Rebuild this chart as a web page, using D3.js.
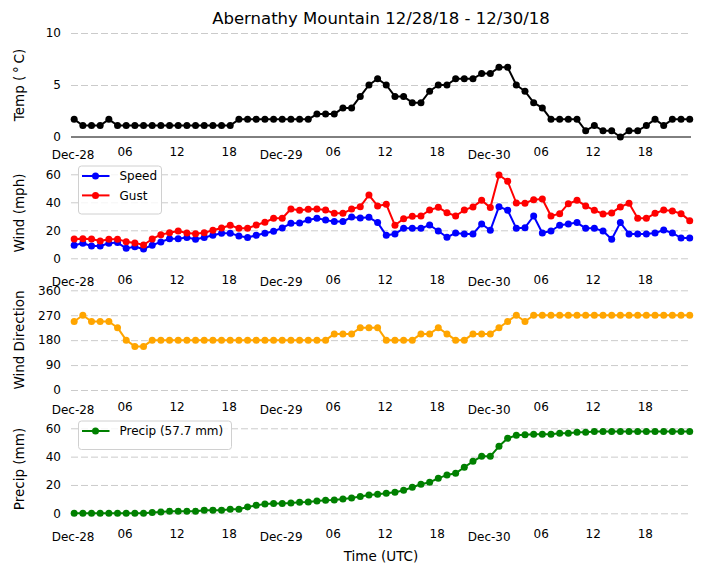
<!DOCTYPE html>
<html>
<head>
<meta charset="utf-8">
<script src="https://cdn.jsdelivr.net/npm/d3@7"></script>
<style>
  body { margin: 0; background: #fff; }
  text { font-family: "DejaVu Sans", sans-serif; fill: #000; }
</style>
</head>
<body>
<div id="chart"></div>
<script>
// hourly observations, Dec-28 00:11 UTC onwards
const tempC = [1.7, 1.1, 1.1, 1.1, 1.7, 1.1, 1.1, 1.1, 1.1, 1.1, 1.1, 1.1, 1.1, 1.1, 1.1, 1.1, 1.1, 1.1, 1.1,
    1.7, 1.7, 1.7, 1.7, 1.7, 1.7, 1.7, 1.7, 1.7, 2.2, 2.2, 2.2, 2.8, 2.8,
    3.9, 5.0, 5.6, 5.0, 3.9, 3.9, 3.3, 3.3, 4.4, 5.0, 5.0, 5.6, 5.6, 5.6, 6.1, 6.1, 6.7, 6.7,
    5.0, 4.4, 3.3, 2.8, 1.7, 1.7, 1.7, 1.7, 0.6, 1.1, 0.6, 0.6, 0, 0.6, 0.6, 1.1, 1.7, 1.1, 1.7, 1.7, 1.7];
const windSpeed = [9.3, 10.7, 8.8, 8.8, 10.7, 11.2, 7.1, 8.3, 6.7, 9.3, 11.7, 14, 14, 14.8, 13.6, 14.8, 16.4, 17.9, 17.9,
    16, 14.8, 16.4, 17.9, 19.3, 21.7, 25, 25.2, 27.4, 28.6, 27.4, 26.2, 26.2, 29.5, 28.8, 29.3, 25.5, 16.4,
    17.4, 21.4, 21.4, 21.4, 23.8, 19.5, 15, 18.1, 17.4, 17.4, 24.5, 20, 36.9, 34.3, 21.4, 21.9, 30.2, 18.1,
    19.5, 23.6, 24.5, 25.5, 21.4, 21.4, 19.5, 13.6, 25.5, 17.4, 17.4, 17.4, 18.1, 20.2, 18.1, 14.5, 14.5];
const windGust = [13.8, 14, 13.8, 12.4, 13.6, 13.6, 11.9, 11, 9.5, 13.8, 16.9, 18.3, 19.5, 18.1, 17.6, 18.3, 20, 21.7, 23.6,
    21.4, 21.4, 23.8, 25.7, 28.6, 28.6, 35.2, 34.3, 35, 35.2, 34.5, 32.1, 32.1, 35.2, 36.9, 45.2, 37.4, 38.6,
    23.6, 28.3, 30, 30.2, 34.5, 36.4, 32.6, 30.2, 34.5, 36.7, 41.4, 36.2, 59.5, 55, 39.5, 39.3, 41.9, 42.4,
    30.2, 31.9, 39, 41.4, 37.4, 34.3, 31.7, 32.4, 36.7, 39.3, 28.6, 28.6, 32.1, 34.5, 33.8, 31.9, 26.9];
const windDir = [247.5, 270, 247.5, 247.5, 247.5, 225, 180, 157.5, 157.5,
    180, 180, 180, 180, 180, 180, 180, 180, 180, 180, 180, 180, 180, 180, 180, 180, 180, 180, 180, 180, 180,
    202.5, 202.5, 202.5, 225, 225, 225, 180, 180, 180, 180, 202.5, 202.5, 225, 202.5, 180, 180,
    202.5, 202.5, 202.5, 225, 247.5, 270, 247.5,
    270, 270, 270, 270, 270, 270, 270, 270, 270, 270, 270, 270, 270, 270, 270, 270, 270, 270, 270];
const precip = [0, 0, 0, 0, 0, 0, 0, 0, 0, 0.5, 0.9, 1.4, 1.4, 1.4, 1.4, 2.1, 2.1, 2.1, 2.8, 2.8,
    4.5, 5.6, 6.6, 7.0, 7.0, 7.3, 7.8, 8.0, 8.7, 9.2, 9.4, 10.1, 10.8, 11.8, 12.9, 13.4, 14.2, 14.8,
    16.2, 18.4, 20.5, 21.9, 24.7, 27.1, 28.2, 32.5, 36.7, 40.2, 40.2, 47.3, 52.9, 55.1, 55.5,
    55.8, 55.8, 55.8, 56.5, 56.5, 57.2, 57.2, 57.7, 57.7, 57.7, 57.7, 57.7, 57.7, 57.7, 57.7, 57.7, 57.7, 57.7, 57.7];

const tempTicks = [0, 5, 10];
const windTicks = [0, 20, 40, 60];
const dirTicks = [0, 90, 180, 270, 360];
const precipTicks = [0, 20, 40, 60];

const title = "Abernathy Mountain 12/28/18 - 12/30/18";
const precipTotal = "Precip (57.7 mm)";

const start = Date.UTC(2018, 11, 28, 0, 11);
const times = tempC.map((d, i) => new Date(start + i * 3600e3));

const W = 704, H = 573;
const left = 71, right = 691;

let svg = d3.select("#chart").append("svg")
    .attr("width", W)
    .attr("height", H);

let x = d3.scaleUtc()
    .domain([new Date(Date.UTC(2018, 11, 27, 23, 49)), new Date(Date.UTC(2018, 11, 30, 23, 13))])
    .range([left, right - 1]);

const xTicks = x.ticks(d3.utcHour.every(6));
const fmtDate = d3.utcFormat("%b-%d"), fmtHour = d3.utcFormat("%H");

// panels: pixel position of y range and x tick labels
const panels = [
    { label: "Temp (\u2009\u00B0\u2009C)", dom: [0, 10], rng: [137, 33], ticks: tempTicks, tickY: 151.7, labY: 85 },
    { label: "Wind (mph)", dom: [0, 60], rng: [258.3, 174.3], ticks: windTicks, tickY: 279.3, labY: 213 },
    { label: "Wind Direction", dom: [0, 360], rng: [390, 290.3], ticks: dirTicks, tickY: 406.8, labY: 340 },
    { label: "Precip (mm)", dom: [0, 60], rng: [513.3, 428.3], ticks: precipTicks, tickY: 534, labY: 469 }
];

panels.forEach(function (p, k) {
    p.y = d3.scaleLinear().domain(p.dom).range(p.rng);

    // gridlines
    let grid = svg.append("g")
        .attr("transform", "translate(" + left + ",0)")
        .call(d3.axisLeft(p.y).tickValues(k === 0 ? p.ticks.slice(1) : p.ticks)
            .tickSize(-(right - left)).tickFormat(""));
    grid.select(".domain").remove();
    grid.selectAll("line")
        .attr("stroke", "#cbcbcb")
        .attr("stroke-width", 1)
        .attr("stroke-dasharray", "7,3");

    // y ticks
    let ya = svg.append("g")
        .attr("transform", "translate(" + left + ",0)")
        .call(d3.axisLeft(p.y).tickValues(p.ticks).tickSize(0).tickPadding(10));
    ya.select(".domain").remove();
    ya.selectAll("text").style("font-size", "12px").attr("fill", "#000");

    // x ticks
    let xa = svg.append("g")
        .attr("transform", "translate(0," + p.tickY + ")")
        .call(d3.axisBottom(x).tickValues(xTicks).tickSize(0).tickPadding(0)
            .tickFormat(d => d.getUTCHours() === 0 ? fmtDate(d) : fmtHour(d)));
    xa.select(".domain").remove();
    xa.selectAll("text")
        .style("font-size", "12px")
        .attr("fill", "#000")
        .attr("y", d => d.getUTCHours() === 0 ? 2.6 : 0)
        .attr("dy", "0.35em");

    // y label
    svg.append("text")
        .attr("transform", "translate(19," + p.labY + ") rotate(-90)")
        .attr("text-anchor", "middle")
        .attr("dy", "0.35em")
        .style("font-size", "13.5px")
        .text(p.label);
});

// freezing line
svg.append("line")
    .attr("x1", left).attr("x2", right)
    .attr("y1", panels[0].y(0)).attr("y2", panels[0].y(0))
    .attr("stroke", "#000").attr("stroke-width", 1);

function series(vals, yScale, color) {
    let line = d3.line()
        .x((d, i) => x(times[i]))
        .y(d => yScale(d));
    svg.append("path")
        .datum(vals)
        .attr("d", line)
        .attr("fill", "none")
        .attr("stroke", color)
        .attr("stroke-width", 2)
        .attr("stroke-linejoin", "round");
    svg.append("g")
        .selectAll("circle")
        .data(vals)
        .enter()
        .append("circle")
        .attr("cx", (d, i) => x(times[i]))
        .attr("cy", d => yScale(d))
        .attr("r", 3.5)
        .attr("fill", color);
}

series(tempC, panels[0].y, "#000000");
series(windSpeed, panels[1].y, "#0000ff");
series(windGust, panels[1].y, "#ff0000");
series(windDir, panels[2].y, "#ffa500");
series(precip, panels[3].y, "#008000");

function legend(x0, y0, w, items) {
    let g = svg.append("g").attr("transform", "translate(" + x0 + "," + y0 + ")");
    g.append("rect")
        .attr("width", w)
        .attr("height", 9 + items.length * 19.5)
        .attr("rx", 3)
        .attr("fill", "#fff")
        .attr("fill-opacity", 0.8)
        .attr("stroke", "#d0d0d0");
    items.forEach(function (it, i) {
        let cy = 10 + i * 19.4;
        g.append("line")
            .attr("x1", 3.5).attr("x2", 31)
            .attr("y1", cy).attr("y2", cy)
            .attr("stroke", it.color).attr("stroke-width", 2);
        g.append("circle").attr("cx", 17).attr("cy", cy).attr("r", 3.5).attr("fill", it.color);
        g.append("text")
            .attr("x", 41).attr("y", cy)
            .attr("dy", "0.35em")
            .style("font-size", "12px")
            .text(it.name);
    });
}

legend(78.5, 166, 83, [{ name: "Speed", color: "#0000ff" }, { name: "Gust", color: "#ff0000" }]);
legend(78.5, 421, 153, [{ name: precipTotal, color: "#008000" }]);

// title and x label
svg.append("text")
    .attr("x", (left + right) / 2)
    .attr("y", 18)
    .attr("dy", "0.35em")
    .attr("text-anchor", "middle")
    .style("font-size", "16.5px")
    .text(title);

svg.append("text")
    .attr("x", (left + right) / 2)
    .attr("y", 556)
    .attr("dy", "0.35em")
    .attr("text-anchor", "middle")
    .style("font-size", "13.5px")
    .text("Time (UTC)");
</script>
</body>
</html>
